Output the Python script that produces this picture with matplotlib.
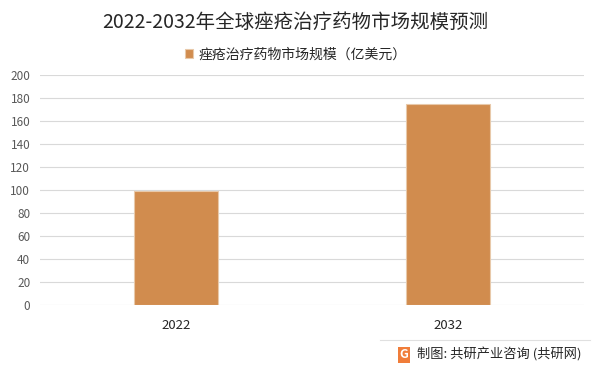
import matplotlib.pyplot as plt

plt.rcParams['font.family'] = ['Noto Sans CJK SC', 'DejaVu Sans']

years = ['2022', '2032']
market_size = [99, 175]
y_ticks = [0, 20, 40, 60, 80, 100, 120, 140, 160, 180, 200]

fig = plt.figure(figsize=(6.01, 3.73), dpi=100)
ax = fig.add_axes([40 / 601, 68 / 373, 544 / 601, 230 / 373])

x = range(len(years))
ax.bar(x, market_size, width=0.31, color='#D18C4E', edgecolor='#E8C9AA',
       linewidth=0.8, label='痤疮治疗药物市场规模（亿美元）', zorder=3)

ax.set_xlim(-0.5, 1.5)
ax.set_ylim(0, 200)
ax.set_yticks(y_ticks)
ax.set_xticks(list(x))
ax.set_xticklabels(years, fontsize=9.5, color='#262626')
ax.tick_params(axis='y', labelsize=8.5, labelcolor='#595959', length=0, pad=7)
ax.tick_params(axis='x', length=0, pad=10)
ax.grid(axis='y', color='#D9D9D9', linewidth=0.8, zorder=0)
for s in ax.spines.values():
    s.set_visible(False)

fig.text(0.492, 1 - 22 / 373, '2022-2032年全球痤疮治疗药物市场规模预测', ha='center',
         va='center', fontsize=14, color='#262626')
ax.legend(loc='center', bbox_to_anchor=(0.47, 1.09), frameon=False,
          fontsize=10, handlelength=0.6, handleheight=0.6, handletextpad=0.4,
          labelcolor='#262626')

# source note
fig.add_artist(plt.Line2D([380 / 601, 590 / 601], [1 - 340 / 373, 1 - 340 / 373],
                          color='#E0E0E0', linewidth=0.8))
fig.text(404 / 601, 1 - 355 / 373, 'G', ha='center', va='center', fontsize=9,
         color='white', fontweight='bold',
         bbox=dict(boxstyle='square,pad=0.15', fc='#F07D3A', ec='none'))
fig.text(417 / 601, 1 - 355 / 373, '制图: 共研产业咨询 (共研网)', ha='left',
         va='center', fontsize=9.5, color='#262626')

fig.savefig('out.png', dpi=100)
